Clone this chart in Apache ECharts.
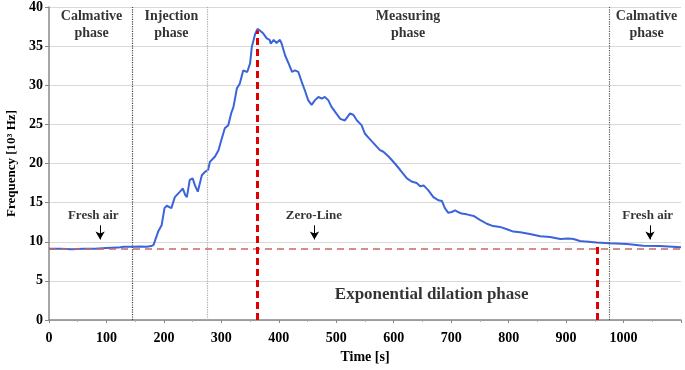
<!DOCTYPE html>
<html>
<head>
<meta charset="utf-8">
<script src="https://cdn.jsdelivr.net/npm/echarts@6/dist/echarts.min.js"></script>
<style>
  html, body { margin: 0; padding: 0; background: #fff; }
  #chart { width: 685px; height: 370px; }
</style>
</head>
<body>
<div id="chart"></div>
<script>
const times = [0, 20, 40, 60, 80, 100, 120, 130, 145, 160, 170, 178, 182, 190, 196, 201, 205, 213, 219, 228,
  233, 237, 240, 245, 250, 254, 259, 266, 271, 277, 280, 289, 295, 300, 306, 312, 317, 321, 327, 330,
  332, 338, 341, 345, 350, 353, 359, 363, 367, 373, 379, 384, 386, 391, 396, 402, 405, 411, 417, 423,
  428, 434, 440, 446, 451, 457, 463, 469, 475, 480, 486, 492, 498, 507, 515, 524, 530, 536, 544, 550,
  556, 566, 576, 582, 591, 602, 611, 623, 631, 640, 646, 652, 660, 669, 678, 684, 689, 695, 701, 707,
  712, 718, 727, 739, 750, 762, 773, 785, 797, 808, 820, 837, 855, 872, 890, 904, 913, 924, 930, 953,
  976, 1006, 1034, 1063, 1100];
const freq = [9.1, 9.1, 9.05, 9.1, 9.1, 9.2, 9.25, 9.35, 9.35, 9.4, 9.35, 9.45, 9.6, 11.3, 12.1, 14.3, 14.6, 14.3, 15.7, 16.4,
  16.8, 16.0, 15.7, 17.9, 18.1, 17.2, 16.4, 18.5, 18.9, 19.2, 20.2, 20.9, 21.7, 23.0, 24.5, 24.9, 26.4, 27.2, 29.6, 29.4,
  30.2, 31.9, 32.1, 31.7, 32.8, 34.9, 36.6, 37.2, 37.0, 36.6, 36.0, 35.8, 35.3, 35.8, 35.4, 35.8, 35.3, 33.8, 32.8, 31.7,
  31.9, 31.7, 30.4, 29.2, 28.1, 27.5, 28.1, 28.5, 28.3, 28.5, 28.1, 27.2, 26.6, 25.7, 25.5, 26.4, 26.2, 25.5, 24.9, 23.8,
  23.3, 22.5, 21.7, 21.5, 20.9, 20.0, 19.2, 18.1, 17.7, 17.5, 17.1, 17.2, 16.6, 15.7, 15.3, 15.2, 14.3, 13.7, 13.8, 14.0,
  13.8, 13.6, 13.5, 13.3, 12.8, 12.3, 12.0, 11.9, 11.6, 11.3, 11.2, 11.0, 10.7, 10.6, 10.35, 10.4, 10.35, 10.1, 10.05, 9.9,
  9.8, 9.7, 9.5, 9.45, 9.3];

const zeroLine = 9.1;
const phaseBounds = [145, 276, 975];
const phaseColors = ['#444', '#aaa', '#555'];
const peakMarks = [[363, 37.0], [954, 9.9]];

const phaseTitles = ['Calmative\nphase', 'Injection\nphase', 'Measuring\nphase', 'Calmative\nphase'];
const phaseTitleX = [74, 213, 625, 1040];
const phaseTitleY = 37.7;

const notes = ['Fresh air', 'Zero-Line', 'Fresh air'];
const noteX = [77, 461, 1042];
const noteY = 13.3;
const arrowX = [89, 462, 1046];
const arrowFrom = 12.1;
const arrowTo = 10.3;

const bigNote = 'Exponential dilation phase';
const bigNoteX = 666;
const bigNoteY = 3.3;

const serif = 'Liberation Serif';

const chart = echarts.init(document.getElementById('chart'));

const option = {
  backgroundColor: '#fff',
  animation: false,
  grid: { left: 49, right: 4, top: 7, bottom: 50, containLabel: false, outerBoundsMode: 'none' },
  xAxis: {
    type: 'value',
    min: 0,
    max: 1100,
    interval: 100,
    name: 'Time [s]',
    nameLocation: 'middle',
    nameGap: 30,
    nameTextStyle: { fontFamily: serif, fontWeight: 'bold', fontSize: 14, color: '#000' },
    axisLine: { lineStyle: { color: '#888', width: 1.5 } },
    axisTick: { length: 3, lineStyle: { color: '#888' } },
    minorTick: { show: true, splitNumber: 2, length: 2, lineStyle: { color: '#aaa' } },
    axisLabel: {
      fontFamily: serif, fontWeight: 'bold', fontSize: 14, color: '#000', margin: 11,
      formatter: v => (v === 1100 ? '' : v)
    },
    splitLine: { show: false }
  },
  yAxis: {
    type: 'value',
    min: 0,
    max: 40,
    interval: 5,
    name: 'Frequency [10³ Hz]',
    nameLocation: 'middle',
    nameGap: 31,
    nameTextStyle: { fontFamily: serif, fontWeight: 'bold', fontSize: 13, color: '#000' },
    axisLine: { show: true, lineStyle: { color: '#888', width: 1.5 } },
    axisTick: { show: true, length: 4, lineStyle: { color: '#888' } },
    axisLabel: { fontFamily: serif, fontWeight: 'bold', fontSize: 14, color: '#000', margin: 6 },
    splitLine: { lineStyle: { color: '#d9d9d9', width: 1 } }
  },
  series: [
    {
      name: 'guides',
      type: 'line',
      data: [],
      silent: true,
      markLine: {
        symbol: 'none',
        silent: true,
        label: { show: false },
        data: phaseBounds.map((x, i) => ({
          xAxis: x,
          lineStyle: { color: phaseColors[i], type: 'dotted', width: 1.2 }
        })).concat([{
          yAxis: zeroLine,
          lineStyle: { color: '#c46a66', type: [7, 5], width: 1.6 }
        }])
      }
    },
    {
      name: 'Frequency',
      type: 'line',
      data: times.map((t, i) => [t, freq[i]]),
      showSymbol: false,
      lineStyle: { color: '#3b64db', width: 2 },
      z: 3,
      markLine: {
        symbol: 'none',
        silent: true,
        label: { show: false },
        lineStyle: { color: '#e00000', type: [7, 4], width: 3 },
        data: peakMarks.map(p => [{ coord: [p[0], 0] }, { coord: [p[0], p[1]] }])
      }
    },
    {
      name: 'arrows',
      type: 'line',
      data: [],
      markLine: {
        symbol: ['none', 'arrow'],
        symbolSize: [7, 8],
        silent: true,
        label: { show: false },
        lineStyle: { color: '#000', type: 'solid', width: 1 },
        data: arrowX.map(x => [{ coord: [x, arrowFrom] }, { coord: [x, arrowTo] }])
      }
    },
    {
      name: 'titles',
      type: 'scatter',
      symbolSize: 0,
      silent: true,
      data: phaseTitleX.map((x, i) => ({ value: [x, phaseTitleY], text: phaseTitles[i] })),
      label: {
        show: true,
        position: 'inside',
        formatter: p => p.data.text,
        fontFamily: serif, fontWeight: 'bold', fontSize: 14, lineHeight: 17, color: '#000'
      }
    },
    {
      name: 'notes',
      type: 'scatter',
      symbolSize: 0,
      silent: true,
      data: noteX.map((x, i) => ({ value: [x, noteY], text: notes[i] }))
        .concat([{ value: [bigNoteX, bigNoteY], text: bigNote, label: { fontSize: 17 } }]),
      label: {
        show: true,
        position: 'inside',
        formatter: p => p.data.text,
        fontFamily: serif, fontWeight: 'bold', fontSize: 13, color: '#000'
      }
    }
  ]
};

chart.setOption(option);
</script>
</body>
</html>
